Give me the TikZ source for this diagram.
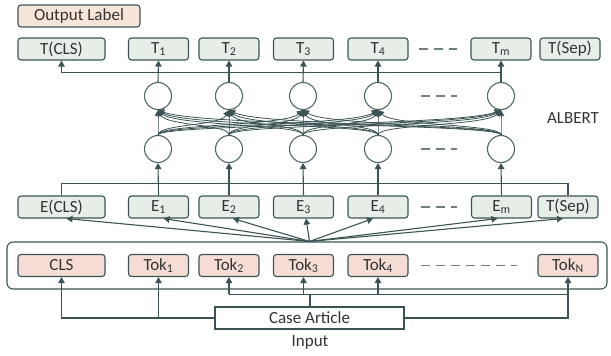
\documentclass[tikz,border=0pt]{standalone}
\usepackage{fontspec}
\setmainfont{Carlito}
\usetikzlibrary{arrows.meta,calc}
\definecolor{edge}{HTML}{3C5355}
\definecolor{ringc}{HTML}{4F6769}
\definecolor{boxfill}{HTML}{E7EEE8}
\definecolor{tokfill}{HTML}{F5DDD6}
\definecolor{labfill}{HTML}{F8E5DA}
\definecolor{ink}{HTML}{333333}
\definecolor{dashc}{HTML}{6F8081}
\begin{document}
\begin{tikzpicture}[x=1pt,y=-1pt,
  box/.style={draw=edge, line width=1.1pt, rounded corners=3pt, fill=boxfill,
    minimum height=22pt, inner sep=0pt, text=ink, font=\fontsize{17}{19}\selectfont},
  nbox/.style={box, minimum width=60pt},
  wbox/.style={box, minimum width=87pt},
  tokbox/.style={fill=tokfill},
  unit/.style={circle, draw=ringc, line width=1.1pt, fill=white, minimum size=27pt, inner sep=0pt},
  arr/.style={draw=edge, line width=1.1pt, -{Triangle[length=6pt,width=6.5pt]}},
  attn/.style={draw=edge, line width=0.8pt, -{Triangle[length=6pt,width=6.5pt]}},
  ln/.style={draw=edge, line width=1.1pt},
  dots/.style={draw=dashc, line width=1.6pt, dash pattern=on 9pt off 6pt},
  lbl/.style={text=ink, font=\fontsize{17}{19}\selectfont, inner sep=0pt}]
\useasboundingbox (0,0) rectangle (611,356);

% output label
\node[box, fill=labfill, minimum width=122pt] (outlab) at (79,16) {Output Label};

% output token row
\node[wbox] (tcls) at (61.5,49) {T(CLS)};
\node[nbox] (t1) at (158.5,49) {T\textsubscript{1}};
\node[nbox] (t2) at (229,49) {T\textsubscript{2}};
\node[nbox] (t3) at (303.5,49) {T\textsubscript{3}};
\node[nbox] (t4) at (378,49) {T\textsubscript{4}};
\node[nbox] (t5) at (501,49) {T\textsubscript{m}};
\node[nbox] (tsep) at (570,49) {T(Sep)};

% transformer units
\foreach \i/\x in {1/158,2/229,3/303,4/378,5/501} {
  \node[unit] (up\i) at (\x,96) {};
  \node[unit] (lo\i) at (\x,149) {};
}
\node[lbl] (albert) at (573,118) {ALBERT};

% embedding row
\node[wbox] (ecls) at (61.5,207) {E(CLS)};
\node[nbox] (e1) at (158.5,207) {E\textsubscript{1}};
\node[nbox] (e2) at (229,207) {E\textsubscript{2}};
\node[nbox] (e3) at (303.5,207) {E\textsubscript{3}};
\node[nbox] (e4) at (378,207) {E\textsubscript{4}};
\node[nbox] (e5) at (501.5,207) {E\textsubscript{m}};
\node[nbox] (esep) at (568,207) {T(Sep)};

% token frame and tokens
\node[draw=edge, line width=1.1pt, rounded corners=6pt, minimum width=600pt,
  minimum height=47pt, inner sep=0pt] (embed) at (307,265.5) {};
\node[wbox, tokbox] (tkcls) at (61.5,265.5) {CLS};
\node[nbox, tokbox] (tk1) at (158.5,265.5) {Tok\textsubscript{1}};
\node[nbox, tokbox] (tk2) at (229,265.5) {Tok\textsubscript{2}};
\node[nbox, tokbox] (tk3) at (303.5,265.5) {Tok\textsubscript{3}};
\node[nbox, tokbox] (tk4) at (378,265.5) {Tok\textsubscript{4}};
\node[nbox, tokbox] (tkN) at (568,265.5) {Tok\textsubscript{N}};

% input
\node[draw=edge, line width=1.1pt, fill=white, minimum width=189pt, minimum height=22pt,
  inner sep=0pt, text=ink, font=\fontsize{17}{19}\selectfont] (case) at (309.5,318) {Case Article};
\node[lbl] (inlbl) at (310,342) {Input};

% ellipses
\draw[dots] ($(t4.east)+(10,0)$) -- ($(t5.west)+(-13,0)$);
\draw[dots] ($(up4.east)+(29,0)$) -- ($(up5.west)+(-30,0)$);
\draw[dots] ($(lo4.east)+(29,0)$) -- ($(lo5.west)+(-30,0)$);
\draw[dots] ($(e4.east)+(12,0)$) -- ($(e5.west)+(-14,0)$);
\draw[dots] ($(tk4.east)+(12,0)$) -- ($(tkN.west)+(-20,0)$);

% attention connections between the two layers
\foreach \i in {1,...,5} {
  \foreach \j in {1,...,5} {
    \draw[attn] (lo\i.north) .. controls ($(lo\i.north)+(0,-11)$)
      and ($(up\j.south)!0.12!(up\j.south -| lo\i.north)+(0,16)$) .. (up\j.south);
  }
}

% upper layer to outputs
\foreach \i in {1,...,5} {
  \draw[arr] (up\i.north) -- (t\i.south);
}
\coordinate (topbus) at ($(up5.north)!0.45!(t5.south)$);
\draw[arr] (topbus) -| (tcls.south);

% embeddings to lower layer
\coordinate (ebus) at ($(e1.north)!0.38!(lo1.south)$);
\draw[ln] (ecls.north) |- (ebus) -| (esep.north);
\foreach \i in {1,...,5} {
  \draw[arr] (e\i.north) -- (lo\i.south);
}

% tokens to embeddings
\coordinate (hub) at (case.north |- embed.north);
\draw[arr] (hub) -- ([xshift=5pt]ecls.south);
\draw[arr] (hub) -- ([xshift=5pt]e1.south);
\draw[arr] (hub) -- ([xshift=4pt]e2.south);
\draw[arr] (hub) -- ([xshift=2.5pt]e3.south);
\draw[arr] (hub) -- ([xshift=-5pt]e4.south);
\draw[arr] (hub) -- ([xshift=-4pt]e5.south);
\draw[arr] (hub) -- ([xshift=-5pt]esep.south);

% case article to tokens
\draw[arr] (case.west) -| (tkcls.south);
\draw[arr] (case.west -| tk1.south) -- (tk1.south);
\draw[arr] (case.east) -| (tkN.south);
\coordinate (rail) at ($(case.north)+(0,-12)$);
\draw[draw=edge, line width=2pt] (case.north) -- (rail);
\draw[ln] (rail -| tk2.south) -- (rail -| tkN.south);
\draw[arr] (rail -| tk2.south) -- (tk2.south);
\draw[arr] (rail -| tk3.south) -- (tk3.south);
\draw[arr] (rail -| tk4.south) -- (tk4.south);
\end{tikzpicture}
\end{document}
